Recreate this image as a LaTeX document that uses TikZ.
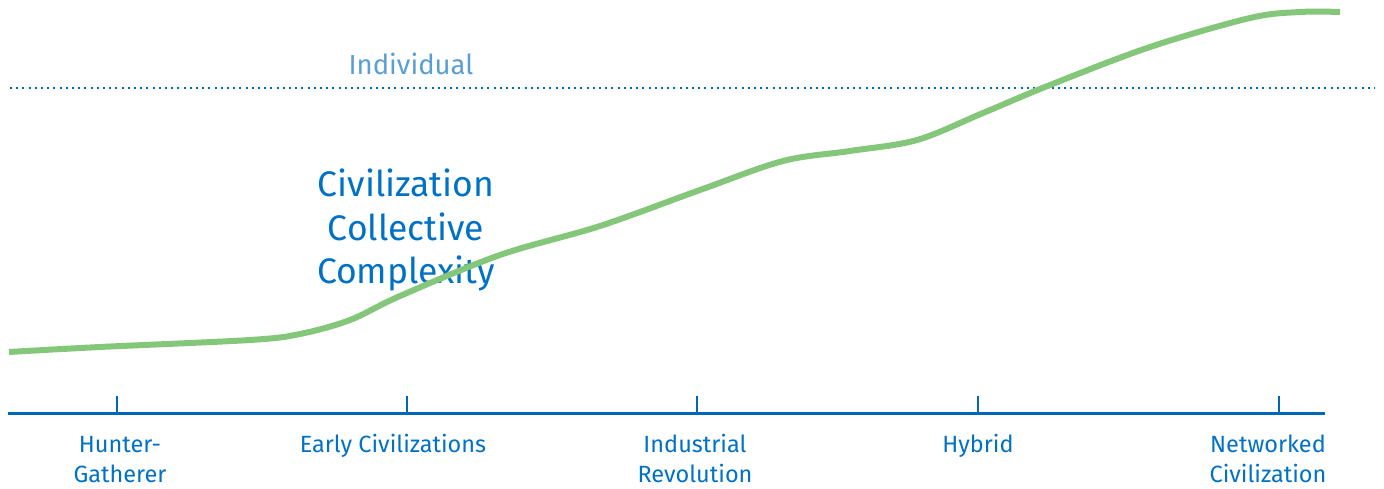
\documentclass[tikz,border=0pt]{standalone}
\usepackage{fontspec}
\setmainfont{Fira Sans}
\definecolor{axisblue}{HTML}{0068B5}
\definecolor{textblue}{HTML}{0071C5}
\definecolor{lightblue}{HTML}{5A9FD4}
\definecolor{curvegreen}{HTML}{84C77A}
\tikzset{
  axisline/.style={draw=axisblue, line width=3pt},
  tickline/.style={draw=axisblue, line width=2.5pt},
  eralabel/.style={text=textblue, font=\fontsize{23.5}{30}\selectfont, align=center, anchor=base, inner sep=0pt},
  bigtext/.style={text=textblue, font=\fontsize{35.5}{43}\selectfont, align=center, anchor=base, inner sep=0pt},
  indtext/.style={text=lightblue, font=\fontsize{27.5}{34}\selectfont, anchor=base, inner sep=0pt},
  dotline/.style={draw=axisblue, line width=2pt, dash pattern=on 2pt off 4.2pt},
  growth/.style={draw=curvegreen, line width=6pt}
}
\begin{document}
\begin{tikzpicture}[x=1pt, y=-1pt]
\useasboundingbox (0,0) rectangle (1384,489);
% dotted individual line
\coordinate (dl) at (10,88);
\coordinate (dr) at (1375,88);
\draw[dotline] (dl) -- (dr);
\node[indtext] (ind) at (411,75) {Individual};
% axis
\coordinate (al) at (8,413);
\coordinate (ar) at (1325,413);
\draw[axisline] (al) -- (ar);
\foreach \n/\x in {t1/117, t2/407, t3/697, t4/978, t5/1279} {
  \coordinate (\n b) at (\x,413);
  \coordinate (\n t) at (\x,396);
  \draw[tickline] (\n b) -- (\n t);
}
% multi-line nodes: base anchor is the last line's baseline
\node[eralabel] (hg) at (120,482) {Hunter-\\Gatherer};
\node[eralabel] (ec) at (393,452) {Early Civilizations};
\node[eralabel] (ir) at (695,482) {Industrial\\Revolution};
\node[eralabel] (hy) at (978,452) {Hybrid};
\node[eralabel] (nc) at (1268,482) {Networked\\Civilization};
% big text
\node[bigtext] (ccc) at (406,283) {Civilization\\Collective\\Complexity};
% curve
\draw[growth] plot[smooth, tension=0.55] coordinates {
  (9,352) (100,347) (250,340) (300,334) (350,320) (400,296) (500,255)
  (600,226) (700,190) (783,161) (850,151) (917,140) (983,113) (1050,85)
  (1150,47) (1250,18) (1300,12) (1340,12)};
\end{tikzpicture}
\end{document}
